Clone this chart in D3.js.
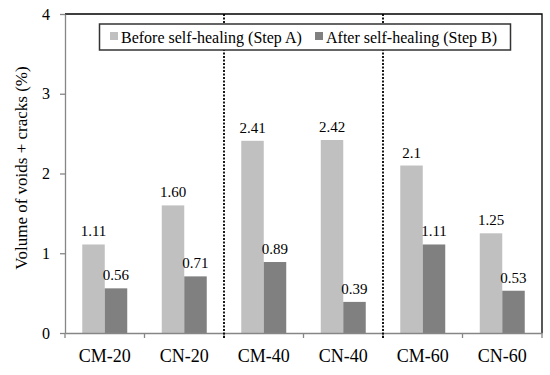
<!DOCTYPE html>
<html>
<head>
<meta charset="utf-8">
<script src="https://cdn.jsdelivr.net/npm/d3@7"></script>
<style>
  body { margin: 0; background: #fff; }
</style>
</head>
<body>
<div></div>
<script>
const width = 550
const height = 375
const serif = 'Liberation Serif, serif'

// data
const categories = ['CM-20', 'CN-20', 'CM-40', 'CN-40', 'CM-60', 'CN-60']
const series = ['Before self-healing (Step A)', 'After self-healing (Step B)']
const beforeValues = [1.11, 1.60, 2.41, 2.42, 2.1, 1.25]
const afterValues = [0.56, 0.71, 0.89, 0.39, 1.11, 0.53]
const beforeLabels = ['1.11', '1.60', '2.41', '2.42', '2.1', '1.25']
const afterLabels = ['0.56', '0.71', '0.89', '0.39', '1.11', '0.53']
const yTicks = [0, 1, 2, 3, 4]
const groupBreaks = ['CM-40', 'CM-60']   // dotted separators before these
const colors = ['#c0c0c0', '#808080']

let svg = d3.select('div').append('svg')
    .attr('width', width)
    .attr('height', height)
    .attr('font-family', serif)
    .style('display', 'block')

const margin = {left: 65, right: 8, top: 14, bottom: 42}
const plotRight = width - margin.right
const plotBottom = height - margin.bottom

const x0 = d3.scaleBand().domain(categories).range([margin.left, plotRight]).padding(0)
const x1 = d3.scaleBand().domain([0, 1]).range([0, x0.bandwidth()]).paddingInner(0).paddingOuter(0.767)
const y = d3.scaleLinear().domain([0, 4]).range([plotBottom, margin.top])

// frame (top + right)
svg.append('path')
    .attr('d', 'M' + margin.left + ',' + margin.top + 'H' + plotRight + 'V' + plotBottom)
    .attr('fill', 'none')
    .attr('stroke', '#000')
    .attr('stroke-width', 1.3)

// bars
const rows = categories.map((c, i) => ({
    cat: c,
    vals: [
        {k: 0, v: beforeValues[i], label: beforeLabels[i]},
        {k: 1, v: afterValues[i], label: afterLabels[i]}
    ]
}))

let group = svg.selectAll('g.grp')
    .data(rows)
    .enter()
    .append('g')
    .attr('class', 'grp')
    .attr('transform', d => 'translate(' + x0(d.cat) + ',0)')

group.selectAll('rect')
    .data(d => d.vals)
    .enter()
    .append('rect')
    .attr('x', d => x1(d.k))
    .attr('width', x1.bandwidth())
    .attr('y', d => y(d.v))
    .attr('height', d => y(0) - y(d.v))
    .style('fill', d => colors[d.k])

group.selectAll('text')
    .data(d => d.vals)
    .enter()
    .append('text')
    .attr('x', d => x1(d.k) + x1.bandwidth() / 2)
    .attr('y', d => y(d.v) - 8)
    .attr('text-anchor', 'middle')
    .attr('font-family', serif)
    .attr('font-size', 15)
    .text(d => d.label)

// y axis
let yAxis = svg.append('g')
    .attr('transform', 'translate(' + margin.left + ',0)')
    .call(d3.axisLeft(y).tickValues(yTicks).tickFormat(d3.format('d')).tickSize(5).tickSizeOuter(0))
yAxis.attr('font-family', serif)
yAxis.select('.domain').attr('stroke', '#868686').attr('stroke-width', 1.3)
yAxis.selectAll('.tick line').attr('stroke', '#868686').attr('stroke-width', 1.3)
yAxis.selectAll('.tick text')
    .attr('x', -15)
    .attr('font-size', 16)
    .attr('fill', '#000')

// x axis
let xAxis = svg.append('g')
    .attr('transform', 'translate(0,' + plotBottom + ')')
    .call(d3.axisBottom(x0).tickSize(0).tickSizeOuter(0))
xAxis.attr('font-family', serif)
xAxis.select('.domain').attr('stroke', '#868686').attr('stroke-width', 1.3)
xAxis.selectAll('.tick text')
    .attr('y', 16)
    .attr('font-size', 18)
    .attr('fill', '#000')

const edges = categories.map(c => x0(c)).concat([x0.range()[1]])
xAxis.selectAll('line.edge')
    .data(edges)
    .enter()
    .append('line')
    .attr('class', 'edge')
    .attr('x1', d => d).attr('x2', d => d)
    .attr('y1', 0).attr('y2', 5)
    .attr('stroke', '#868686')
    .attr('stroke-width', 1.3)

// dotted group separators
svg.selectAll('line.sep')
    .data(groupBreaks)
    .enter()
    .append('line')
    .attr('class', 'sep')
    .attr('x1', d => x0(d)).attr('x2', d => x0(d))
    .attr('y1', margin.top).attr('y2', plotBottom + 5)
    .attr('stroke', '#000')
    .attr('stroke-width', 1.8)
    .attr('stroke-dasharray', '2,1.5')

// y title
svg.append('text')
    .attr('transform', 'translate(27,168) rotate(-90)')
    .attr('text-anchor', 'middle')
    .attr('font-family', serif)
    .attr('font-size', 17)
    .text('Volume of voids + cracks (%)')

// legend
svg.append('rect')
    .attr('x', 99.5).attr('y', 24)
    .attr('width', 411).attr('height', 26)
    .attr('fill', '#fff')
    .attr('stroke', '#333')
    .attr('stroke-width', 1.5)
const legendX = [110, 315]
let item = svg.selectAll('g.leg')
    .data(series)
    .enter()
    .append('g')
    .attr('class', 'leg')
    .attr('transform', (d, i) => 'translate(' + legendX[i] + ',0)')
item.append('rect')
    .attr('x', 0).attr('y', 32)
    .attr('width', 8).attr('height', 8)
    .style('fill', (d, i) => colors[i])
item.append('text')
    .attr('x', 11).attr('y', 43)
    .attr('font-family', serif)
    .attr('font-size', 16)
    .text(d => d)
</script>
</body>
</html>
